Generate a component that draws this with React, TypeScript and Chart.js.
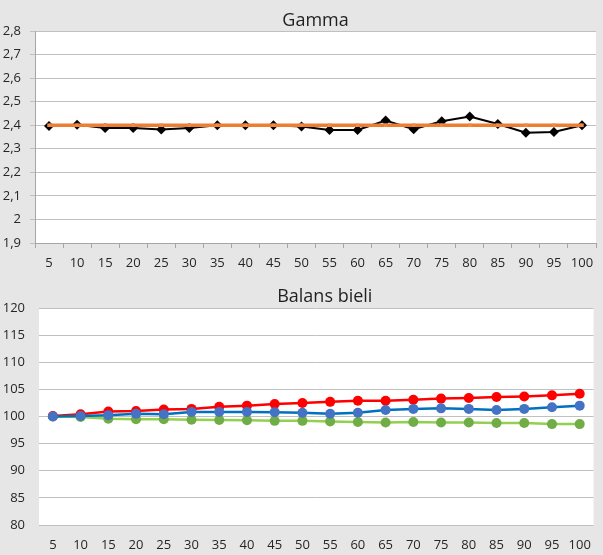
import React, { useEffect, useRef } from 'react';
import Chart from 'chart.js/auto';

const levels = ['5', '10', '15', '20', '25', '30', '35', '40', '45', '50', '55', '60', '65', '70', '75', '80', '85', '90', '95', '100'];

const gammaMeasured = [2.397, 2.402, 2.388, 2.388, 2.382, 2.388, 2.4, 2.4, 2.4, 2.395, 2.38, 2.38, 2.42, 2.383, 2.417, 2.437, 2.405, 2.368, 2.371, 2.4];
const gammaTarget = [2.4, 2.4, 2.4, 2.4, 2.4, 2.4, 2.4, 2.4, 2.4, 2.4, 2.4, 2.4, 2.4, 2.4, 2.4, 2.4, 2.4, 2.4, 2.4, 2.4];
const gammaTicks = [1.9, 2, 2.1, 2.2, 2.3, 2.4, 2.5, 2.6, 2.7, 2.8];

const balanceRed = [100.1, 100.4, 100.9, 101.0, 101.3, 101.4, 101.8, 102.0, 102.3, 102.5, 102.7, 102.9, 102.9, 103.1, 103.3, 103.4, 103.6, 103.7, 103.9, 104.2];
const balanceBlue = [100.0, 100.1, 100.25, 100.5, 100.4, 100.85, 100.85, 100.85, 100.8, 100.7, 100.5, 100.7, 101.2, 101.4, 101.5, 101.4, 101.2, 101.4, 101.7, 102.0];
const balanceGreen = [100.0, 99.9, 99.6, 99.5, 99.5, 99.4, 99.35, 99.3, 99.2, 99.2, 99.1, 99.0, 98.9, 99.0, 98.9, 98.9, 98.8, 98.8, 98.6, 98.6];
const balanceTicks = [80, 85, 90, 95, 100, 105, 110, 115, 120];

const FONT = 'Open Sans';
const TEXT = '#262626';
const GRID = '#c0c0c0';
const AXIS = '#a6a6a6';

// white plot area + a title placed where Excel put it
const framePlugin = (title: string, tx: number, ty: number) => ({
  id: 'frame',
  beforeDraw(chart: any) {
    const { ctx, chartArea } = chart;
    ctx.save();
    ctx.fillStyle = '#ffffff';
    ctx.fillRect(chartArea.left, chartArea.top, chartArea.right - chartArea.left, chartArea.bottom - chartArea.top);
    ctx.restore();
  },
  afterDraw(chart: any) {
    const { ctx } = chart;
    ctx.save();
    ctx.font = `18px "${FONT}"`;
    ctx.fillStyle = '#1f1f1f';
    ctx.textAlign = 'center';
    ctx.textBaseline = 'alphabetic';
    ctx.fillText(title, tx, ty);
    ctx.restore();
  },
});

const tickFont = { family: FONT, size: 13 };

const GammaChart: React.FC = () => {
  const ref = useRef<HTMLCanvasElement>(null);

  useEffect(() => {
    if (!ref.current) return;
    const chart = new Chart(ref.current, {
      type: 'line',
      data: {
        labels: levels,
        datasets: [
          {
            data: gammaTarget,
            borderColor: '#ED7D31',
            backgroundColor: '#ED7D31',
            borderWidth: 3.5,
            pointStyle: 'rect',
            pointRadius: 2.5,
            pointBorderWidth: 0,
            pointBackgroundColor: '#F08A45',
            tension: 0,
          },
          {
            data: gammaMeasured,
            borderColor: '#000000',
            backgroundColor: '#000000',
            borderWidth: 2,
            pointStyle: 'rectRot',
            pointRadius: 5,
            pointBorderWidth: 0,
            pointBackgroundColor: '#000000',
            tension: 0,
          },
        ],
      },
      options: {
        animation: false,
        responsive: false,
        layout: { padding: { top: 31, right: 7, left: 0, bottom: 0 } },
        plugins: { legend: { display: false }, tooltip: { enabled: false } },
        scales: {
          x: {
            offset: true,
            grid: { offset: true, drawOnChartArea: false, tickLength: 5, color: AXIS },
            border: { color: AXIS },
            ticks: { padding: 7, maxRotation: 0, autoSkip: false, font: tickFont, color: TEXT },
            afterFit: (s: any) => { s.height = 34; },
          },
          y: {
            min: gammaTicks[0],
            max: gammaTicks[gammaTicks.length - 1],
            afterBuildTicks: (s: any) => { s.ticks = gammaTicks.map((v) => ({ value: v })); },
            ticks: {
              padding: 9,
              font: tickFont,
              color: TEXT,
              callback: (v: any) => String(Math.round(Number(v) * 10) / 10).replace('.', ','),
            },
            grid: { color: GRID, tickLength: 5 },
            border: { color: AXIS },
            afterFit: (s: any) => { s.width = 35; },
          },
        },
      },
      plugins: [framePlugin('Gamma', 315.5, 26)],
    });
    return () => chart.destroy();
  }, []);

  return <canvas ref={ref} width={603} height={277} style={{ display: 'block' }} />;
};

const BalanceChart: React.FC = () => {
  const ref = useRef<HTMLCanvasElement>(null);

  useEffect(() => {
    if (!ref.current) return;
    const series = (data: number[], line: string, dot: string) => ({
      data,
      borderColor: line,
      backgroundColor: dot,
      borderWidth: 2.5,
      pointStyle: 'circle' as const,
      pointRadius: 5,
      pointBorderWidth: 0,
      pointBackgroundColor: dot,
      tension: 0,
    });
    const chart = new Chart(ref.current, {
      type: 'line',
      data: {
        labels: levels,
        datasets: [
          series(balanceBlue, '#0070C0', '#4472C4'),
          series(balanceRed, '#FF0000', '#FF0000'),
          series(balanceGreen, '#92D050', '#70AD47'),
        ],
      },
      options: {
        animation: false,
        responsive: false,
        layout: { padding: { top: 31, right: 6, left: 0, bottom: 0 } },
        plugins: { legend: { display: false }, tooltip: { enabled: false } },
        scales: {
          x: {
            offset: true,
            grid: { display: false, drawTicks: false },
            border: { display: false },
            ticks: { padding: 12, maxRotation: 0, autoSkip: false, font: tickFont, color: TEXT },
            afterFit: (s: any) => { s.height = 30; },
          },
          y: {
            min: balanceTicks[0],
            max: balanceTicks[balanceTicks.length - 1],
            afterBuildTicks: (s: any) => { s.ticks = balanceTicks.map((v) => ({ value: v })); },
            ticks: { padding: 14, font: tickFont, color: TEXT },
            grid: { color: GRID, drawTicks: false },
            border: { display: false },
            afterFit: (s: any) => { s.width = 39; },
          },
        },
      },
      plugins: [framePlugin('Balans bieli', 324.8, 24.7)],
    });
    return () => chart.destroy();
  }, []);

  return <canvas ref={ref} width={603} height={278} style={{ display: 'block' }} />;
};

export default function App() {
  useEffect(() => {
    document.body.style.margin = '0';
  }, []);

  return (
    <div style={{ width: 603, height: 555, background: '#e6e6e6', overflow: 'hidden' }}>
      <GammaChart />
      <BalanceChart />
    </div>
  );
}
